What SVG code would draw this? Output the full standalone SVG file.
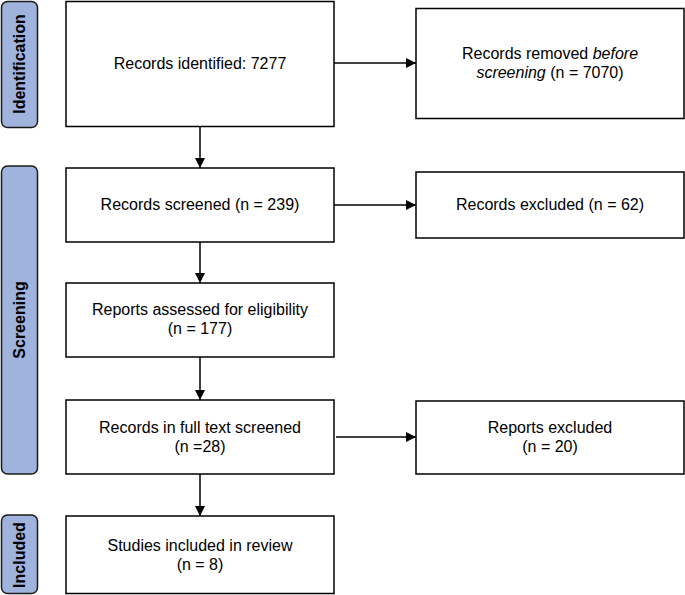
<svg xmlns="http://www.w3.org/2000/svg" width="685" height="595" viewBox="0 0 685 595">
<style>
.box{fill:#fff;stroke:#000;stroke-width:1.5}
.side{fill:#9fb3dd;stroke:#1a1a1a;stroke-width:1.5}
.t{font-family:"Liberation Sans",Arial,sans-serif;font-size:16px;fill:#000;text-anchor:middle}
.s{font-family:"Liberation Sans",Arial,sans-serif;font-size:16px;font-weight:bold;fill:#000;text-anchor:middle}
.c{stroke:#000;stroke-width:1.5;fill:none;marker-end:url(#ah)}
</style>
<defs>
<marker id="ah" viewBox="0 0 10 10" refX="10" refY="5" markerWidth="10" markerHeight="10" markerUnits="userSpaceOnUse" orient="auto">
<path d="M0,0 L10,5 L0,10 z" fill="#000"/>
</marker>
</defs>
<rect width="685" height="595" fill="#fff"/>
<g id="phase-identification">
<rect class="side" x="1.5" y="1.5" width="36" height="126" rx="6"/>
<text class="s" transform="translate(25,64) rotate(-90)">Identification</text>
</g>
<g id="phase-screening">
<rect class="side" x="1.5" y="166" width="36" height="308" rx="6"/>
<text class="s" transform="translate(25,320) rotate(-90)">Screening</text>
</g>
<g id="phase-included">
<rect class="side" x="1.5" y="515" width="36" height="78.5" rx="6"/>
<text class="s" transform="translate(25,555) rotate(-90)">Included</text>
</g>
<g id="n1">
<rect class="box" x="66" y="1.5" width="268" height="125"/>
<text class="t" x="200" y="69">Records identified: 7277</text>
</g>
<g id="n2">
<rect class="box" x="416" y="8.5" width="268" height="110"/>
<text class="t" x="550" y="59">Records removed <tspan font-style="italic">before</tspan></text>
<text class="t" x="550" y="78"><tspan font-style="italic">screening</tspan> (n = 7070)</text>
</g>
<g id="n3">
<rect class="box" x="66" y="168" width="268" height="74"/>
<text class="t" x="200" y="210">Records screened (n = 239)</text>
</g>
<g id="n4">
<rect class="box" x="416" y="172" width="268" height="66"/>
<text class="t" x="550" y="210">Records excluded (n = 62)</text>
</g>
<g id="n5">
<rect class="box" x="66" y="283" width="268" height="74"/>
<text class="t" x="200" y="315">Reports assessed for eligibility</text>
<text class="t" x="200" y="334">(n = 177)</text>
</g>
<g id="n6">
<rect class="box" x="66" y="400" width="268" height="74"/>
<text class="t" x="200" y="433">Records in full text screened</text>
<text class="t" x="200" y="452">(n =28)</text>
</g>
<g id="n7">
<rect class="box" x="416" y="401" width="268" height="73"/>
<text class="t" x="550" y="433">Reports excluded</text>
<text class="t" x="550" y="452">(n = 20)</text>
</g>
<g id="n8">
<rect class="box" x="66" y="516" width="268" height="77.5"/>
<text class="t" x="200" y="551">Studies included in review</text>
<text class="t" x="200" y="570">(n = 8)</text>
</g>
<g id="connectors">
<line class="c" x1="200" y1="127" x2="200" y2="168"/>
<line class="c" x1="200" y1="242" x2="200" y2="283"/>
<line class="c" x1="200" y1="357" x2="200" y2="400"/>
<line class="c" x1="200" y1="474" x2="200" y2="516"/>
<line class="c" x1="334" y1="63" x2="416" y2="63"/>
<line class="c" x1="334" y1="205" x2="416" y2="205"/>
<line class="c" x1="336" y1="437" x2="416" y2="437"/>
</g>
</svg>
